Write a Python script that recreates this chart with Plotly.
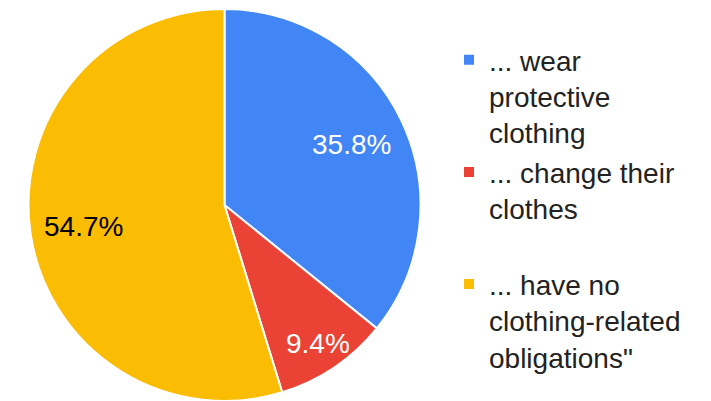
import math
import plotly.graph_objects as go

# Share of respondents by clothing obligation
labels = [
    "... wear<br>protective<br>clothing",
    "... change their<br>clothes<br>\u00a0",
    "... have no<br>clothing-related<br>obligations\"",
]
values = [35.8, 9.4, 54.7]
colors = ["#4285F4", "#EA4335", "#FBBC04"]
text_colors = ["#FFFFFF", "#FFFFFF", "#000000"]
# radial placement of each percentage label, as a fraction of the radius
label_radius = [0.72, 0.85, 0.73]

W, H = 711, 401
FONT = "Arial, Liberation Sans, sans-serif"

# pie geometry in pixels
x0, x1 = 28.5, 420.5
y_top, y_bot = 9.0, 401.0
cx, cy = (x0 + x1) / 2, (y_top + y_bot) / 2
R = (x1 - x0) / 2

fig = go.Figure(
    go.Pie(
        labels=labels,
        values=values,
        sort=False,
        direction="clockwise",
        rotation=0,
        marker=dict(colors=colors, line=dict(color="#FFFFFF", width=2)),
        textinfo="none",
        hoverinfo="label+percent",
        domain=dict(x=[x0 / W, x1 / W], y=[1 - y_bot / H, 1 - y_top / H]),
    )
)

# percentage labels along each slice's bisector
total = sum(values)
start = 0.0
for v, col, frac in zip(values, text_colors, label_radius):
    mid = (start + v / 2) / total * 2 * math.pi
    px = cx + frac * R * math.sin(mid)
    py = cy - frac * R * math.cos(mid)
    fig.add_annotation(
        x=px / W, y=1 - py / H, xref="paper", yref="paper",
        text=f"{v}%", showarrow=False,
        xanchor="center", yanchor="middle",
        font=dict(family=FONT, size=28, color=col),
    )
    start += v

fig.update_layout(
    width=W,
    height=H,
    margin=dict(l=0, r=0, t=0, b=0),
    paper_bgcolor="#FFFFFF",
    plot_bgcolor="#FFFFFF",
    font=dict(family=FONT, size=28, color="#222222"),
    showlegend=True,
    legend=dict(
        x=449 / W,
        y=1 - 35 / H,
        xanchor="left",
        yanchor="top",
        valign="top",
        font=dict(family=FONT, size=28, color="#222222"),
        bgcolor="rgba(0,0,0,0)",
    ),
)

fig.write_html("out.html")
